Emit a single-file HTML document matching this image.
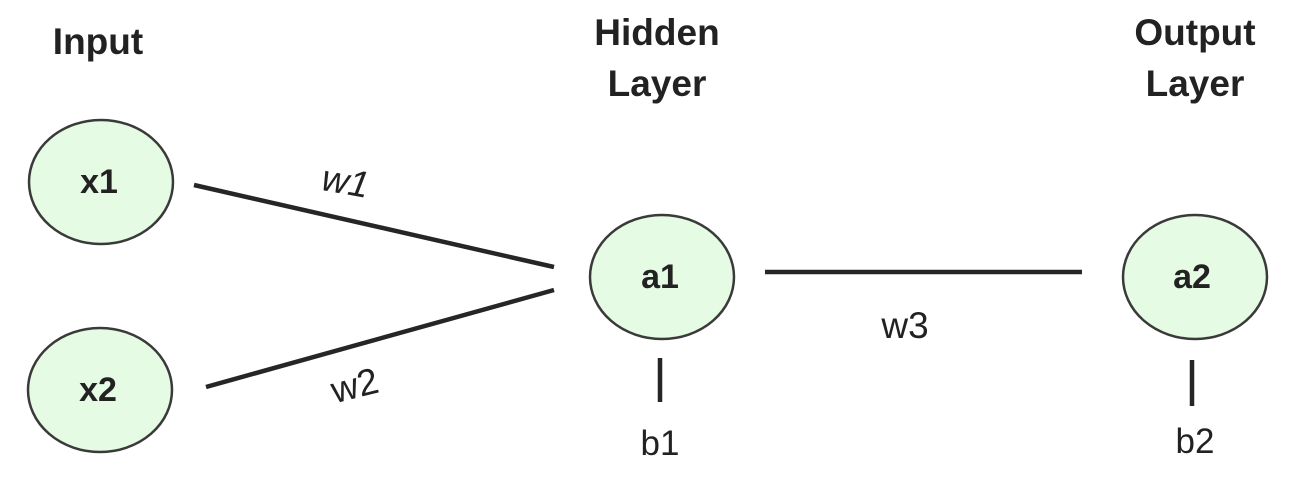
<!DOCTYPE html>
<html>
<head>
<meta charset="utf-8">
<style>
  html,body{margin:0;padding:0;background:#fff;}
  svg{display:block;}
  text{font-family:"Liberation Sans",sans-serif;fill:#222;}
  .title{font-weight:bold;font-size:37px;}
  .node{fill:#e6fbe3;stroke:#3a3a3a;stroke-width:2.5;}
  .nlabel{font-weight:bold;font-size:34px;}
  .edge{stroke:#262626;stroke-width:4.5;}
  .wl{font-size:37px;}
  .bl{font-size:35px;}
</style>
</head>
<body>
<svg width="1296" height="484" viewBox="0 0 1296 484">
  <text class="title" x="98" y="54" text-anchor="middle">Input</text>
  <text class="title" x="657" y="45" text-anchor="middle">Hidden</text>
  <text class="title" x="657" y="96" text-anchor="middle">Layer</text>
  <text class="title" x="1195" y="45" text-anchor="middle">Output</text>
  <text class="title" x="1195" y="96" text-anchor="middle">Layer</text>

  <line class="edge" x1="194" y1="185" x2="554" y2="267"/>
  <line class="edge" x1="206" y1="387" x2="554" y2="290"/>
  <line class="edge" x1="765" y1="272" x2="1082" y2="272"/>
  <line class="edge" x1="660" y1="358" x2="660" y2="402"/>
  <line class="edge" x1="1192" y1="360" x2="1192" y2="406"/>

  <ellipse class="node" cx="101" cy="182" rx="72" ry="62"/>
  <ellipse class="node" cx="100" cy="390" rx="72" ry="62"/>
  <ellipse class="node" cx="662" cy="277" rx="72" ry="62"/>
  <ellipse class="node" cx="1195" cy="277" rx="72" ry="62"/>

  <text class="nlabel" x="99" y="193" text-anchor="middle">x1</text>
  <text class="nlabel" x="98" y="401" text-anchor="middle">x2</text>
  <text class="nlabel" x="660" y="288" text-anchor="middle">a1</text>
  <text class="nlabel" x="1192" y="288" text-anchor="middle">a2</text>

  <text class="wl" x="345" y="194" text-anchor="middle" font-style="italic" transform="rotate(10 345 185)">w1</text>
  <text class="wl" x="355" y="398" text-anchor="middle" transform="rotate(-14 355 387)">w2</text>
  <text class="wl" x="905" y="338" text-anchor="middle">w3</text>
  <text class="bl" x="660" y="455" text-anchor="middle">b1</text>
  <text class="bl" x="1195" y="453" text-anchor="middle">b2</text>
</svg>
</body>
</html>
